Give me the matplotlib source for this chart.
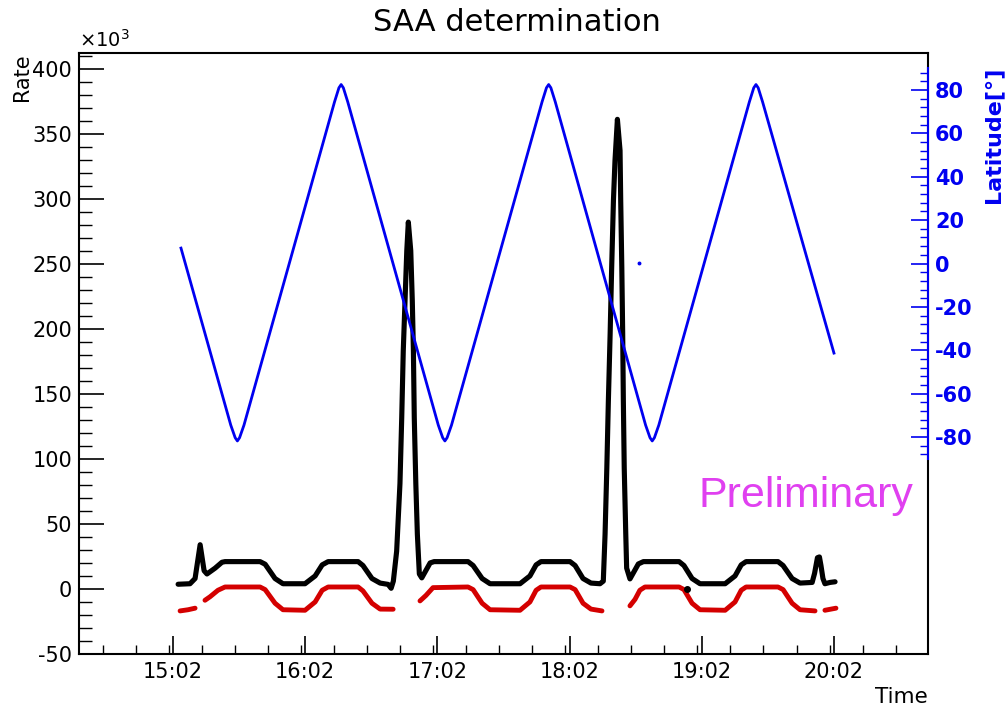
import matplotlib
matplotlib.use('Agg')
import matplotlib.pyplot as plt
from matplotlib.ticker import FixedLocator, MultipleLocator
import numpy as np

nan = np.nan

# time in minutes after 00:00, rate in units of 10^3
rate_time = [904.3, 909.7, 912.0, 914.3, 916.1, 917.4, 921.1, 924.2, 925.6, 941.5,
             943.8, 948.3, 951.9, 961.9, 966.5, 969.7, 972.4, 986.0, 988.2, 992.3,
             996.0, 999.6, 1001.0, 1002.0, 1003.5, 1005.0, 1005.8, 1006.5, 1007.3, 1008.1,
             1008.8, 1009.9, 1010.6, 1011.1, 1011.5, 1012.2, 1012.9, 1013.8, 1014.9, 1018.7,
             1020.5, 1035.9, 1038.2, 1042.3, 1045.9, 1059.5, 1064.0, 1066.8, 1069.0, 1082.2,
             1084.5, 1088.1, 1091.7, 1095.8, 1097.3, 1098.1, 1098.9, 1099.6, 1100.4, 1101.1,
             1101.9, 1102.6, 1103.7, 1104.9, 1105.2, 1105.7, 1106.1, 1106.4, 1106.8, 1107.5,
             1107.9, 1109.4, 1113.2, 1115.5, 1131.7, 1133.9, 1137.6, 1141.2, 1152.6, 1157.1,
             1159.9, 1162.1, 1176.6, 1178.9, 1183.0, 1186.6, 1192.1, 1193.2, 1194.5, 1195.4,
             1196.1, 1197.0, 1197.9, 1200.2, 1202.5]
rate_value = [3.6, 4.0, 8, 34, 14, 11.5, 16, 20.5, 21, 21,
              19, 8, 4, 4, 10, 18.5, 21, 21, 18, 8,
              4.5, 3.5, 0.5, 6, 29, 81, 131.5, 183, 221.5, 260,
              282, 260, 221.5, 183, 131.5, 81, 42, 11.5, 8.5, 20,
              21, 21, 18, 8, 4, 4, 10, 18.5, 21, 21,
              18, 8, 4.5, 4, 6, 42, 93, 144.6, 196, 247,
              298.5, 329, 361, 337, 298.5, 247, 196, 144.6, 93, 42,
              16, 7.7, 19.2, 21, 21, 18, 8, 4, 4, 10,
              18.5, 21, 21, 18, 8, 4.5, 5, 12, 24, 24.6,
              18, 8, 4, 5, 5.5]

# stray point
stray_time = [1135.2]
stray_value = [0.0]

# corrected rate (gaps = nan)
corr_time = [905.2, 908.8, 912.0, nan,
             916.5, 918.8, 922.4, 925.6, 941.5, 943.8, 948.3, 951.9, 961.9, 966.5,
             969.7, 972.4, 986.0, 988.2, 992.3, 996.0, 1001.9, nan,
             1014.1, 1016.8, 1020.0, 1035.9, 1038.2, 1042.3, 1045.9, 1059.5, 1064.0, 1066.8,
             1069.0, 1082.2, 1084.5, 1088.1, 1091.7, 1096.7, nan,
             1109.4, 1111.7, 1113.9, 1116.2, 1131.7, 1133.9, 1137.6, 1141.2, 1152.6, 1157.1,
             1159.9, 1162.1, 1176.6, 1178.9, 1183.0, 1186.6, 1193.4, nan,
             1197.9, 1202.9]
corr_value = [-16.9, -16, -14.8, nan,
              -8.7, -6, -1, 1.5, 1.5, -0.5, -11, -16, -16.4, -10,
              -1, 1.5, 1.5, -1.5, -11, -15.5, -15.6, nan,
              -9.2, -5, 1.0, 1.5, -0.5, -11, -16, -16.4, -10, -1,
              1.5, 1.5, -0.5, -11, -15.5, -16.9, nan,
              -13, -8, -1, 1.5, 1.5, -0.5, -11, -16, -16.4, -10,
              -1, 1.5, 1.5, -0.5, -11, -16, -16.9, nan,
              -16.4, -14.8]

# latitude in degrees
lat_time = [905.6, 928.2, 930.2, 931.2, 932.2, 934.2, 975.3, 977.3, 978.3, 979.3,
            981.3, 1022.4, 1024.4, 1025.4, 1026.4, 1028.4, 1069.5, 1071.5, 1072.5, 1073.5,
            1075.5, 1116.5, 1118.5, 1119.5, 1120.5, 1122.5, 1163.6, 1165.6, 1166.6, 1167.6,
            1169.6, 1202.0]
lat_value = [7.1, -74.5, -80.3, -81.8, -80.3, -74.5, 74.5, 81.0, 82.5, 81.0,
             74.5, -74.5, -80.3, -81.8, -80.3, -74.5, 74.5, 81.0, 82.5, 81.0,
             74.5, -74.5, -80.3, -81.8, -80.3, -74.5, 74.5, 81.0, 82.5, 81.0,
             74.5, -41.3]
lat_stray_time = [1113.7]
lat_stray_value = [0.4]

time_ticks = [902, 962, 1022, 1082, 1142, 1202]
time_labels = ['%d:%02d' % (m // 60, m % 60) for m in time_ticks]

plt.rcParams['font.family'] = ['DejaVu Sans']
plt.rcParams['axes.unicode_minus'] = False

fig = plt.figure(figsize=(10.06, 7.11), dpi=100)
ax = fig.add_axes([0.0785, 0.0802, 0.844, 0.8453])

# rate curves
ax.plot(rate_time, rate_value, color='black', lw=3.7, solid_capstyle='round',
        solid_joinstyle='round', zorder=3)
ax.plot(stray_time, stray_value, 'o', color='black', ms=4, zorder=3)
ax.plot(corr_time, corr_value, color='#d40000', lw=3.5, solid_capstyle='round',
        solid_joinstyle='round', zorder=2)

ax.set_xlim(859.3, 1244.7)
ax.set_ylim(-50, 412)

ax.set_xticks(time_ticks)
ax.set_xticklabels(time_labels)
ax.xaxis.set_minor_locator(MultipleLocator(15))
ax.yaxis.set_major_locator(MultipleLocator(50))
ax.yaxis.set_minor_locator(MultipleLocator(10))

ax.tick_params(axis='x', which='major', direction='in', length=13, width=1.2,
               labelsize=15, pad=6, top=False)
ax.tick_params(axis='x', which='minor', direction='in', length=6.5, width=1.0, top=False)
ax.tick_params(axis='y', which='major', direction='in', length=18, width=1.2,
               labelsize=15, pad=5, right=False)
ax.tick_params(axis='y', which='minor', direction='in', length=9, width=1.0, right=False)

for s in ax.spines.values():
    s.set_linewidth(1.5)

# latitude axis
ax2 = ax.twinx()
ax2.plot(lat_time, lat_value, color='#0000f0', lw=2.0, zorder=4)
ax2.plot(lat_stray_time, lat_stray_value, 'o', color='#0000f0', ms=1.8)
ax2.set_ylim(-180, 97.05)
ax2.yaxis.set_major_locator(FixedLocator(list(range(-80, 81, 20))))
ax2.yaxis.set_minor_locator(FixedLocator(list(range(-88, 89, 4))))
ax2.tick_params(axis='y', which='major', direction='in', length=12, width=1.2,
                colors='#0000f0', labelsize=15, pad=5)
ax2.tick_params(axis='y', which='minor', direction='in', length=6, width=1.0,
                colors='#0000f0')
for lab in ax2.get_yticklabels():
    lab.set_fontweight('bold')
for k in ['left', 'top', 'bottom']:
    ax2.spines[k].set_visible(False)
ax2.spines['right'].set_bounds(-90, 90)
ax2.spines['right'].set_color('#0000f0')
ax2.spines['right'].set_linewidth(1.5)

# texts
fig.text(0.514, 0.969, 'SAA determination', fontsize=22, ha='center', va='center')
ax.text(-0.0675, 1.0, 'Rate', rotation=90, fontsize=15, ha='center', va='top',
        transform=ax.transAxes)
ax.text(0.0, 1.003, r'$\times$10$^3$', fontsize=14, ha='left', va='bottom',
        transform=ax.transAxes)
ax.text(1.0, -0.0715, 'Time', fontsize=15.5, ha='right', va='center',
        transform=ax.transAxes)
fig.text(0.9876, 0.9058, 'Latitude[°]', rotation=90, fontsize=16, fontweight='bold',
         color='#0000f0', ha='center', va='top')
ax.text(0.9825, 0.263, 'Preliminary', fontsize=31, color='#e040f0', ha='right',
        va='center', family='Liberation Sans', transform=ax.transAxes)

fig.savefig('out.png', dpi=100)
